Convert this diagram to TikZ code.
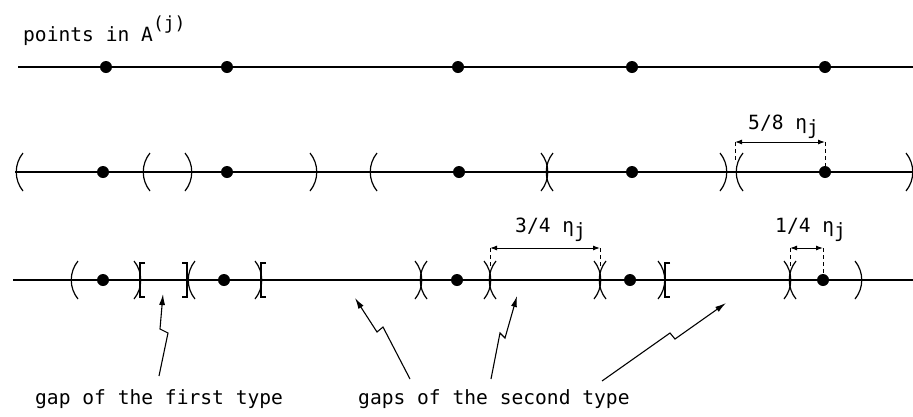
\documentclass[tikz,border=0pt]{standalone}
\usepackage{fontspec}
\setmonofont{DejaVu Sans Mono}
\usetikzlibrary{arrows.meta}

\tikzset{
  axis/.style={line width=1.6pt},
  pt/.style={circle,fill=black,inner sep=0pt,minimum size=12pt},
  brk/.style={line width=1.2pt},
  lbl/.style={font=\ttfamily\fontsize{19.6}{22}\selectfont,inner sep=0pt,anchor=base west},
  dim/.style={line width=1pt,{Latex[length=7pt,width=5pt]}-{Latex[length=7pt,width=5pt]}},
  guide/.style={line width=1pt,dash pattern=on 4pt off 3pt},
  bolt/.style={line width=1.1pt,-{Latex[length=11pt,width=6pt]}},
  lpar/.pic={\draw[brk] (0,-19) .. controls (-9,-8) and (-9,8) .. (0,19);},
  rpar/.pic={\draw[brk] (0,-19) .. controls (9,-8) and (9,8) .. (0,19);},
  lsq/.pic={\draw[brk] (5,-17) -- (0,-17) -- (0,17) -- (5,17);},
  rsq/.pic={\draw[brk] (-5,-17) -- (0,-17) -- (0,17) -- (-5,17);}
}

\begin{document}
\begin{tikzpicture}[x=1pt,y=-1pt]
\useasboundingbox (0,0) rectangle (913,416);
% Row 1: the points
\node[lbl] (title) at (23,41) {points in A\raisebox{0.6em}{\fontsize{18}{18}\selectfont(j)}};
\draw[axis] (18,67) -- (913,67);
\foreach \x [count=\i] in {106,227,458,632,825}
  \node[pt] (a\i) at (\x,67) {};
% Row 2: open intervals
\draw[axis] (15,172) -- (913,172);
\foreach \x [count=\i] in {103,227,459,632,825}
  \node[pt] (b\i) at (\x,172) {};
\foreach \x in {23,150,377,553,743}
  \pic at (\x,172) {lpar};
\foreach \x in {185,310,541,720,906}
  \pic at (\x,172) {rpar};
\coordinate (a58) at (735,142);
\coordinate (b58) at (b5 |- a58);
\draw[dim] (a58) -- (b58);
\draw[guide] (a58) -- ++(0,20);
\draw[guide] (b58) -- (b5);
\node[lbl] (l58) at (748,129) {5/8 η\raisebox{-0.3em}{j}};
% Row 3: gaps
\draw[axis] (13,280) -- (913,280);
\foreach \x [count=\i] in {103,224,457,630,823}
  \node[pt] (c\i) at (\x,280) {};
\foreach \x in {78,195,427,496,606,796}
  \pic at (\x,280) {lpar};
\foreach \x in {134,255,415,484,594,658,784,855}
  \pic at (\x,280) {rpar};
\foreach \x in {140,261,665}
  \pic at (\x,280) {lsq};
\pic at (187,280) {rsq};
\coordinate (a34) at (490,248);
\coordinate (b34) at (600,248);
\draw[dim] (a34) -- (b34);
\draw[guide] (a34) -- ++(0,18);
\draw[guide] (b34) -- ++(0,18);
\node[lbl] (l34) at (515,232) {3/4 η\raisebox{-0.3em}{j}};
\coordinate (a14) at (790,248);
\coordinate (b14) at (c5 |- a14);
\draw[dim] (a14) -- (b14);
\draw[guide] (a14) -- ++(0,18);
\draw[guide] (b14) -- (c5);
\node[lbl] (l14) at (775,232) {1/4 η\raisebox{-0.3em}{j}};
% Captions and bolts
\node[lbl] (first) at (35,404) {gap of the first type};
\node[lbl] (second) at (358,404) {gaps of the second type};
\coordinate (g1) at (163,294);
\coordinate (g2) at (355,298);
\coordinate (g3) at (517,296);
\coordinate (g4) at (726,303);
\draw[bolt] (159,376) -- (168,333) -- (160,329) -- (g1);
\draw[bolt] (410,379) -- (383,327) -- (377,332) -- (g2);
\draw[bolt] (491,379) -- (500,333) -- (505,338) -- (g3);
\draw[bolt] (602,381) -- (670,333) -- (675,339) -- (g4);
\end{tikzpicture}
\end{document}
